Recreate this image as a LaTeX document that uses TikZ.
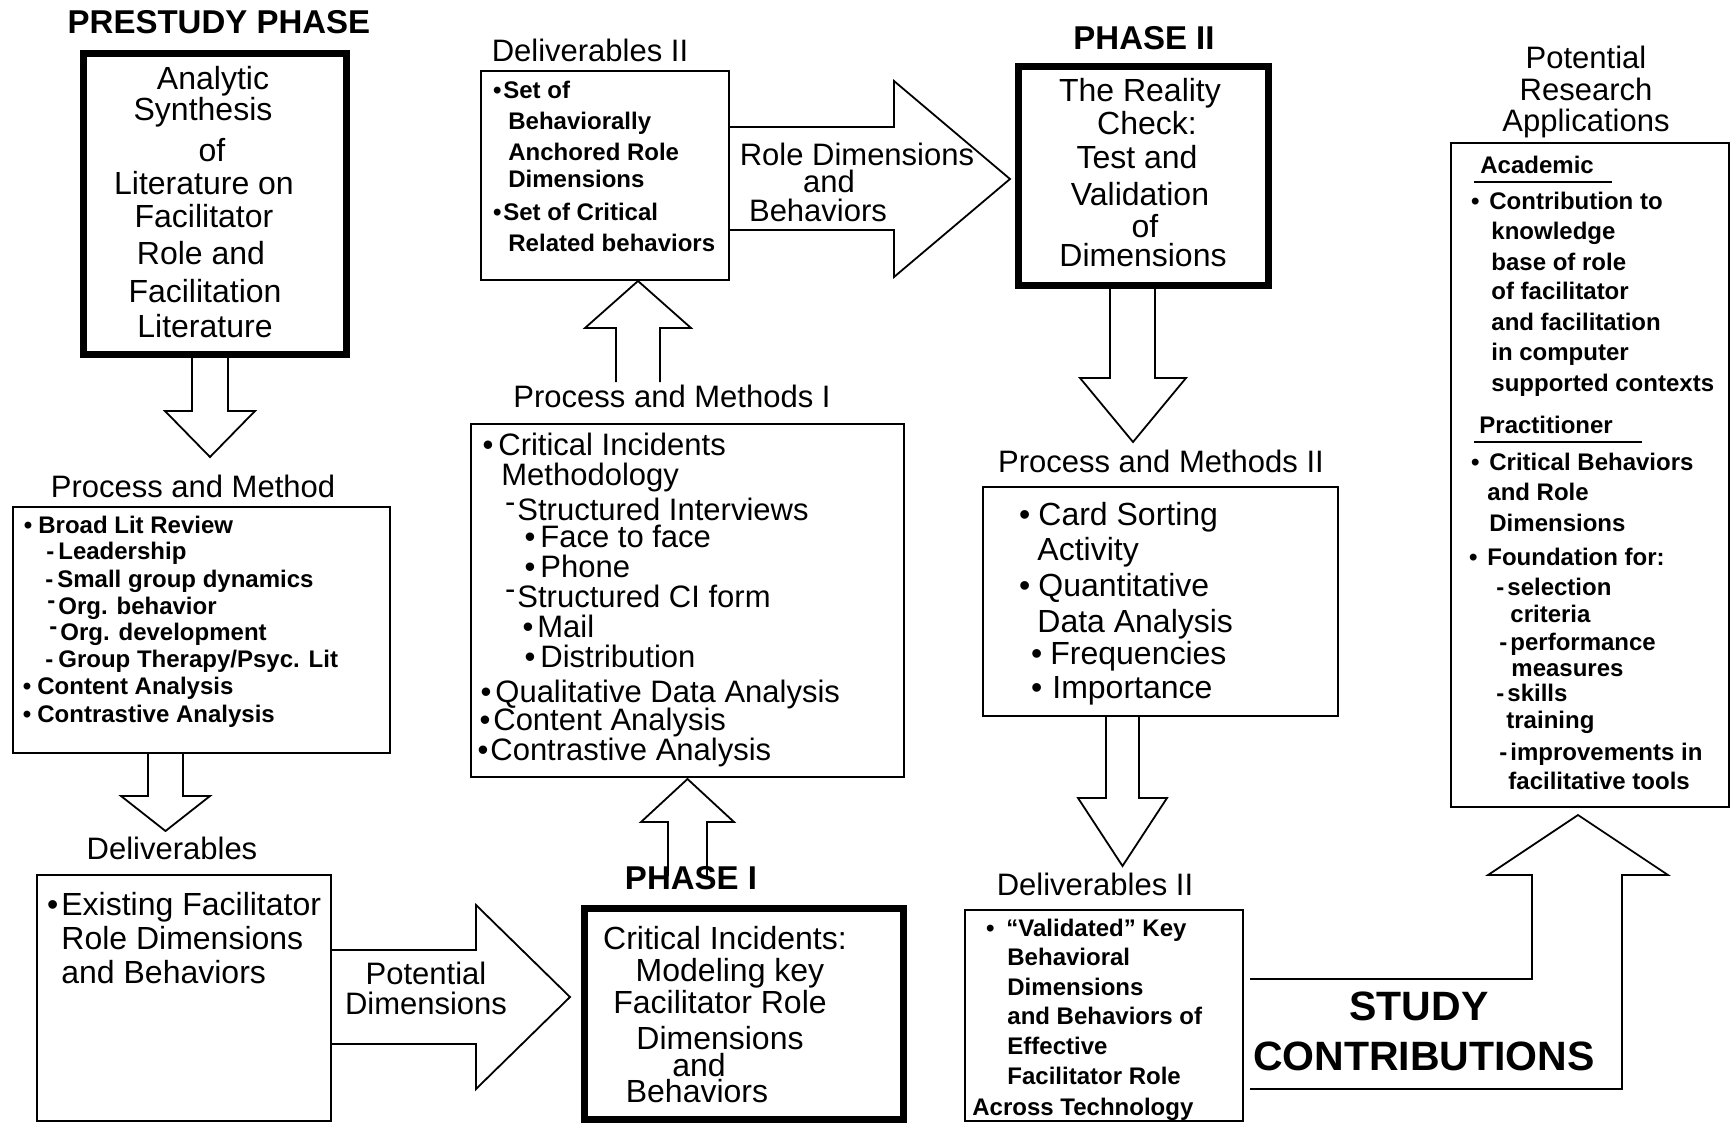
\documentclass[tikz,border=0pt]{standalone}
\usepackage{fontspec}
\setmainfont{Liberation Sans}
\usetikzlibrary{fit}
\newcommand\bul[1][3pt]{\llap{•\hspace{#1}}}
\newcommand\dsh[1][2pt]{\llap{-\hspace{#1}}}
\newcommand\rdsh[1][1pt]{\llap{\raisebox{0.45ex}{-}\hspace{#1}}}
\begin{document}
\begin{tikzpicture}[x=0.5pt,y=-0.5pt,
  thinbox/.style={draw, line width=0.75pt, inner sep=0pt},
  thickbox/.style={draw, line width=3.5pt, inner sep=0pt},
  blk/.style={draw, line width=0.9pt, line join=miter},
  lbl/.style={font=\fontsize{15.5}{18}\selectfont, inner sep=0pt, anchor=mid, yshift=-2.5pt},
  big/.style={font=\fontsize{16}{18}\selectfont, inner sep=0pt, anchor=mid, yshift=-2.2pt},
  ttl/.style={font=\bfseries\fontsize{16.5}{18}\selectfont, inner sep=0pt, anchor=mid, yshift=-2.8pt},
  sct/.style={font=\bfseries\fontsize{20.5}{22}\selectfont, inner sep=0pt, anchor=mid, yshift=-2.5pt},
  itm/.style={font=\bfseries\fontsize{12}{14}\selectfont, inner sep=0pt, anchor=mid west, yshift=-1.2pt},
  reg/.style={font=\fontsize{15.5}{18}\selectfont, inner sep=0pt, anchor=mid west, yshift=-2.4pt},
  regb/.style={font=\fontsize{16}{18}\selectfont, inner sep=0pt, anchor=mid west, yshift=-2.4pt},
  ulin/.style={line width=0.75pt}]
\fill[white] (0,0) rectangle (1734,1125);
\useasboundingbox (0,0) rectangle (1734,1125);

% ---------- boxes ----------
\node[thickbox, fit={(83.5,53.5) (346.5,354.5)}] (prestudy) {};
\node[thinbox, fit={(13,507) (390,753)}] (pm) {};
\node[thinbox, fit={(37,875) (331,1121)}] (deliv) {};
\node[thickbox, fit={(584.5,908.5) (903.5,1119.5)}] (phaseI) {};
\node[thinbox, fit={(471,424) (904,777)}] (pmI) {};
\node[thinbox, fit={(481,71) (729,280)}] (delivII) {};
\node[thickbox, fit={(1018.5,66.5) (1268.5,285.5)}] (phaseII) {};
\node[thinbox, fit={(983,487) (1338,716)}] (pmII) {};
\node[thinbox, fit={(965,910) (1243,1121)}] (delivIIb) {};
\node[thinbox, fit={(1451,143) (1729,807)}] (pra) {};

% ---------- block arrows ----------
\draw[blk] (192,356) -- (192,411) -- (165,411) -- (210,457) -- (255,411) -- (228,411) -- (228,356);
\draw[blk] (148,753) -- (148,796) -- (121,796) -- (165.5,831) -- (210,796) -- (183,796) -- (183,753);
\draw[blk] (331,950) -- (476,950) -- (476,905) -- (570,997) -- (476,1089) -- (476,1044) -- (331,1044);
\draw[blk] (668,876) -- (668,822) -- (641,822) -- (687.5,779) -- (734,822) -- (707,822) -- (707,876);
\draw[blk] (616,382) -- (616,328) -- (585,328) -- (638,281) -- (691,328) -- (660,328) -- (660,382);
\draw[blk] (729,127) -- (894,127) -- (894,81) -- (1010,179) -- (894,277) -- (894,230) -- (729,230);
\draw[blk] (1110,289) -- (1110,378) -- (1080,378) -- (1133,442) -- (1186,378) -- (1155,378) -- (1155,289);
\draw[blk] (1106,716) -- (1106,798) -- (1078,798) -- (1122.5,866) -- (1167,798) -- (1139,798) -- (1139,716);
\draw[blk] (1250,979) -- (1532,979) -- (1532,875) -- (1488,875) -- (1578,815) -- (1668,875) -- (1622,875) -- (1622,1089) -- (1250,1089);

% ---------- titles and labels ----------
\node[ttl] (tpre) at (219,23) {PRESTUDY PHASE};
\node[ttl] (tph2) at (1144,39) {PHASE II};
\node[ttl] (tph1) at (691,879) {PHASE I};
\node[lbl] (lpm) at (193,487) {Process and Method};
\node[lbl] (ldel) at (172,849) {Deliverables};
\node[lbl] (ldel2) at (590,51) {Deliverables II};
\node[lbl] (lpm1) at (672,397) {Process and Methods I};
\node[lbl] (lpm2) at (1161,462) {Process and Methods II};
\node[lbl] (ldel2b) at (1095,885) {Deliverables II};
\node[lbl] (lpra1) at (1586,58) {Potential};
\node[lbl] (lpra2) at (1586,90) {Research};
\node[lbl] (lpra3) at (1586,121) {Applications};
\node[lbl] (arA) at (857,155) {Role Dimensions};
\node[lbl] (arB) at (829,182) {and};
\node[lbl] (arC) at (818,211) {Behaviors};
\node[lbl] (pdA) at (426,974) {Potential};
\node[lbl] (pdB) at (426,1004) {Dimensions};
\node[sct] (sc1) at (1419,1010) {STUDY};
\node[sct] (sc2) at (1424,1060) {CONTRIBUTIONS};

% ---------- prestudy box text ----------
\node[big] (ps1) at (213,80) {Analytic};
\node[big] (ps2) at (203,111) {Synthesis};
\node[big] (ps3) at (212,152) {of};
\node[big] (ps4) at (204,185) {Literature on};
\node[big] (ps5) at (204,218) {Facilitator};
\node[big] (ps6) at (201,255) {Role and};
\node[big] (ps7) at (205,293) {Facilitation};
\node[big] (ps8) at (205,328) {Literature};

% ---------- process and method ----------
\node[itm] (pm1) at (38,526) {\bul Broad Lit Review};
\node[itm] (pm2) at (58,552) {\dsh Leadership};
\node[itm] (pm3) at (57,580) {\dsh Small group dynamics};
\node[itm] (pm4) at (58,607) {\rdsh[1.5pt]Org. behavior};
\node[itm] (pm5) at (60,633) {\rdsh[1.5pt]Org. development};
\node[itm] (pm6) at (58,660) {\dsh[2.5pt]Group Therapy/Psyc. Lit};
\node[itm] (pm7) at (37,687) {\bul Content Analysis};
\node[itm] (pm8) at (37,715) {\bul Contrastive Analysis};

% ---------- deliverables ----------
\node[regb] (dl1) at (61,905) {\bul[1.5pt]Existing Facilitator};
\node[regb] (dl2) at (61,939) {Role Dimensions};
\node[regb] (dl3) at (61,973) {and Behaviors};

% ---------- phase I ----------
\node[big] (p1a) at (725,940) {Critical Incidents:};
\node[big] (p1b) at (730,972) {Modeling key};
\node[big] (p1c) at (720,1004) {Facilitator Role};
\node[big] (p1d) at (720,1040) {Dimensions};
\node[big] (p1e) at (699,1067) {and};
\node[big] (p1f) at (697,1093) {Behaviors};

% ---------- process and methods I ----------
\node[reg] (m1) at (498,445) {\bul[2.5pt]Critical Incidents};
\node[reg] (m2) at (501,475) {Methodology};
\node[reg] (m3) at (517,510) {\rdsh Structured Interviews};
\node[reg] (m4) at (540,537) {\bul[2.5pt]Face to face};
\node[reg] (m5) at (540,567) {\bul[2.5pt]Phone};
\node[reg] (m6) at (517,597) {\rdsh Structured CI form};
\node[reg] (m7) at (537,627) {\bul[2pt]Mail};
\node[reg] (m8) at (540,657) {\bul[2.5pt]Distribution};
\node[reg] (m9) at (495,692) {\bul[2pt]Qualitative Data Analysis};
\node[reg] (m10) at (493,720) {\bul[1.5pt]Content Analysis};
\node[reg] (m11) at (490,750) {\bul[1pt]Contrastive Analysis};

% ---------- deliverables II (top) ----------
\node[itm] (d1) at (503,91) {\bul[1pt]Set of};
\node[itm] (d2) at (508,122) {Behaviorally};
\node[itm] (d3) at (508,153) {Anchored Role};
\node[itm] (d4) at (508,180) {Dimensions};
\node[itm] (d5) at (503,213) {\bul[1pt]Set of Critical};
\node[itm] (d6) at (508,244) {Related behaviors};

% ---------- phase II ----------
\node[big] (p2a) at (1140,92) {The Reality};
\node[big] (p2b) at (1147,125) {Check:};
\node[big] (p2c) at (1137,159) {Test and};
\node[big] (p2d) at (1140,196) {Validation};
\node[big] (p2e) at (1145,228) {of};
\node[big] (p2f) at (1143,257) {Dimensions};

% ---------- process and methods II ----------
\node[regb] (q1) at (1038,515) {\bul[4pt]Card Sorting};
\node[regb] (q2) at (1037,550) {Activity};
\node[regb] (q3) at (1038,586) {\bul[4pt]Quantitative};
\node[regb] (q4) at (1037,622) {Data Analysis};
\node[regb] (q5) at (1050,654) {\bul[4pt]Frequencies};
\node[regb] (q6) at (1052,688) {\bul[5pt]Importance};

% ---------- deliverables II (bottom) ----------
\node[itm] (e1) at (1006,929) {\bul[6pt]``Validated'' Key};
\node[itm] (e2) at (1007,958) {Behavioral};
\node[itm] (e3) at (1007,988) {Dimensions};
\node[itm] (e4) at (1007,1017) {and Behaviors of};
\node[itm] (e5) at (1007,1047) {Effective};
\node[itm] (e6) at (1007,1077) {Facilitator Role};
\node[itm] (e7) at (972,1108) {Across Technology};

% ---------- potential research applications ----------
\node[itm] (r0) at (1480,166) {Academic};
\draw[ulin] (1474,182) -- (1612,182);
\node[itm] (r1) at (1489,202) {\bul[5pt]Contribution to};
\node[itm] (r2) at (1491,232) {knowledge};
\node[itm] (r3) at (1491,263) {base of role};
\node[itm] (r4) at (1491,292) {of facilitator};
\node[itm] (r5) at (1491,323) {and facilitation};
\node[itm] (r6) at (1491,353) {in computer};
\node[itm] (r7) at (1491,384) {supported contexts};
\node[itm] (s0) at (1479,426) {Practitioner};
\draw[ulin] (1474,442) -- (1642,442);
\node[itm] (s1) at (1489,463) {\bul[5pt]Critical Behaviors};
\node[itm] (s2) at (1487,493) {and Role};
\node[itm] (s3) at (1489,524) {Dimensions};
\node[itm] (s4) at (1487,558) {\bul[5pt]Foundation for:};
\node[itm] (s5) at (1507,588) {\dsh[1.5pt]selection};
\node[itm] (s6) at (1510,615) {criteria};
\node[itm] (s7) at (1510,643) {\dsh[1.5pt]performance};
\node[itm] (s8) at (1511,669) {measures};
\node[itm] (s9) at (1507,694) {\dsh[1.5pt]skills};
\node[itm] (s10) at (1506,721) {training};
\node[itm] (s11) at (1510,753) {\dsh[1.5pt]improvements in};
\node[itm] (s12) at (1508,782) {facilitative tools};
\end{tikzpicture}
\end{document}
